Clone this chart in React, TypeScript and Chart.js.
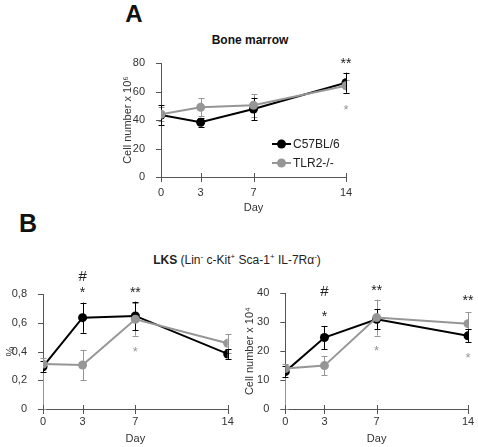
import React, { useEffect, useRef } from "react";
import { Chart, registerables } from "chart.js";
Chart.register(...registerables);

// ---------- data ----------
const DAYS = [0, 3, 7, 14];
const SERIES_NAMES = ["C57BL/6", "TLR2-/-"];

// Panel A: bone marrow cell number x 10^6
const BM_WT = [43.5, 38.4, 47.7, 66.2];
const BM_WT_ERR = [7, 3, 8, 7];
const BM_KO = [44, 48.9, 50.3, 64];
const BM_KO_ERR_UP = [5, 6.3, 8, 4];
const BM_KO_ERR_DN = [5, 6.3, 8, 4.8];
const BM_TICKS = [0, 20, 40, 60, 80];

// Panel B left: LKS %
const LKS_PCT_WT = [0.295, 0.637, 0.649, 0.384];
const LKS_PCT_WT_ERR = [0.04, 0.105, 0.1, 0.035];
const LKS_PCT_KO = [0.314, 0.307, 0.626, 0.458];
const LKS_PCT_KO_ERR_UP = [0.04, 0.105, 0.115, 0.065];
const LKS_PCT_KO_ERR_DN = [0.314, 0.105, 0.115, 0.065];
const LKS_PCT_TICKS = [0, 0.2, 0.4, 0.6, 0.8];

// Panel B right: LKS cell number x 10^4
const LKS_NUM_WT = [12.9, 24.7, 31, 25.3];
const LKS_NUM_WT_ERR = [2, 4, 3.5, 2.3];
const LKS_NUM_KO = [14, 15, 31.6, 29.5];
const LKS_NUM_KO_ERR_UP = [1.5, 3.3, 6.2, 4];
const LKS_NUM_KO_ERR_DN = [14, 3.3, 6.2, 2];
const LKS_NUM_TICKS = [0, 10, 20, 30, 40];

// significance marks: [day, value, text, series(0=WT black,1=KO gray)]
type Mark = [number, number, string, number];
const BM_MARKS: Mark[] = [
  [14, 82, "**", 0],
  [14, 49.3, "*", 1],
];
const LKS_PCT_MARKS: Mark[] = [
  [3, 0.925, "#", 0],
  [3, 0.83, "*", 0],
  [7, 0.83, "**", 0],
  [7, 0.42, "*", 1],
];
const LKS_NUM_MARKS: Mark[] = [
  [3, 40.6, "#", 0],
  [3, 33.1, "*", 0],
  [7, 41.9, "**", 0],
  [7, 21.1, "*", 1],
  [14, 38.4, "**", 0],
  [14, 18.7, "*", 1],
];

// ---------- styles ----------
const FONT = "'Liberation Sans', Arial, Helvetica, sans-serif";
const BLACK = "#000000";
const GRAY = "#969696";
const AXIS = "#555555";
const TEXT = "#333333";
const COLORS = [BLACK, GRAY];

type Spec = {
  left: number; top: number; width: number; height: number;
  padTop: number; padRight: number; yWidth: number; xHeight: number; xLabelPad: number;
  wt: number[]; wtErr: number[]; ko: number[]; koErrUp: number[]; koErrDn: number[];
  yTicks: number[]; yTitle: string; fmt: (v: number) => string; marks: Mark[]; legend: boolean;
};

function extrasPlugin(spec: Spec) {
  return {
    id: "extras",
    beforeDatasetsDraw(chart: any) {
      const { ctx } = chart;
      const x = chart.scales.x;
      const y = chart.scales.y;
      chart.data.datasets.forEach((ds: any) => {
        ctx.save();
        ctx.strokeStyle = ds.borderColor;
        ctx.lineWidth = 1;
        ds.data.forEach((p: any, i: number) => {
          const px = Math.round(x.getPixelForValue(p.x)) + 0.5;
          const top = y.getPixelForValue(p.y + ds.errUp[i]);
          const bot = y.getPixelForValue(p.y - ds.errDn[i]);
          ctx.beginPath();
          ctx.moveTo(px, top);
          ctx.lineTo(px, bot);
          ctx.moveTo(px - 3, Math.round(top) + 0.5);
          ctx.lineTo(px + 3, Math.round(top) + 0.5);
          ctx.moveTo(px - 3, Math.round(bot) + 0.5);
          ctx.lineTo(px + 3, Math.round(bot) + 0.5);
          ctx.stroke();
        });
        ctx.restore();
      });
    },
    afterDraw(chart: any) {
      const { ctx, chartArea } = chart;
      const x = chart.scales.x;
      const y = chart.scales.y;
      ctx.save();
      // tick marks
      ctx.strokeStyle = AXIS;
      ctx.lineWidth = 1;
      ctx.beginPath();
      DAYS.forEach((d) => {
        const px = Math.round(x.getPixelForValue(d)) + 0.5;
        ctx.moveTo(px, chartArea.bottom - 4);
        ctx.lineTo(px, chartArea.bottom + 5);
      });
      spec.yTicks.forEach((v) => {
        const py = Math.round(y.getPixelForValue(v)) + 0.5;
        ctx.moveTo(chartArea.left - 5, py);
        ctx.lineTo(chartArea.left, py);
      });
      ctx.stroke();
      // significance marks
      ctx.textAlign = "center";
      ctx.textBaseline = "middle";
      spec.marks.forEach(([d, v, t, s]) => {
        const size = t === "#" ? 15 : s === 0 ? 14 : 13;
        ctx.font = `${size}px ${FONT}`;
        ctx.fillStyle = s === 0 ? "#222" : GRAY;
        const off = t === "#" ? 0 : size * 0.25;
        ctx.fillText(t, x.getPixelForValue(d), y.getPixelForValue(v) + off);
      });
      // legend
      if (spec.legend) {
        const lx = chartArea.left + 0.6 * (chartArea.right - chartArea.left);
        [0, 1].forEach((i) => {
          const ly = chartArea.bottom - 33 + i * 19;
          ctx.strokeStyle = COLORS[i];
          ctx.fillStyle = COLORS[i];
          ctx.lineWidth = 2;
          ctx.beginPath();
          ctx.moveTo(lx, ly);
          ctx.lineTo(lx + 19, ly);
          ctx.stroke();
          ctx.beginPath();
          ctx.arc(lx + 9.5, ly, 4.5, 0, Math.PI * 2);
          ctx.fill();
          ctx.fillStyle = "#222";
          ctx.font = `12px ${FONT}`;
          ctx.textAlign = "left";
          ctx.fillText(SERIES_NAMES[i], lx + 21, ly + 0.5);
        });
      }
      ctx.restore();
    },
  };
}

function Panel({ spec }: { spec: Spec }) {
  const ref = useRef<HTMLCanvasElement | null>(null);
  useEffect(() => {
    if (!ref.current) return;
    const mk = (vals: number[]) => DAYS.map((d, i) => ({ x: d, y: vals[i] }));
    const yMin = spec.yTicks[0];
    const yMax = spec.yTicks[spec.yTicks.length - 1];
    const chart = new Chart(ref.current, {
      type: "line",
      data: {
        datasets: [
          {
            label: SERIES_NAMES[1], data: mk(spec.ko), borderColor: GRAY, backgroundColor: GRAY,
            pointBackgroundColor: GRAY, pointBorderColor: GRAY, pointRadius: 4.5, pointBorderWidth: 0,
            borderWidth: 2, order: 0, errUp: spec.koErrUp, errDn: spec.koErrDn,
          } as any,
          {
            label: SERIES_NAMES[0], data: mk(spec.wt), borderColor: BLACK, backgroundColor: BLACK,
            pointBackgroundColor: BLACK, pointBorderColor: BLACK, pointRadius: 4.5, pointBorderWidth: 0,
            borderWidth: 2, order: 1, errUp: spec.wtErr, errDn: spec.wtErr,
          } as any,
        ],
      },
      options: {
        responsive: false,
        animation: false,
        events: [],
        layout: { padding: { top: spec.padTop, right: spec.padRight, left: 0, bottom: 0 } },
        plugins: { legend: { display: false }, tooltip: { enabled: false } },
        scales: {
          x: {
            type: "linear", min: 0, max: 14,
            afterBuildTicks: (s: any) => { s.ticks = DAYS.map((v) => ({ value: v })); },
            afterFit: (s: any) => { s.height = spec.xHeight; },
            grid: { display: false },
            border: { display: true, color: AXIS, width: 1 },
            ticks: {
              padding: spec.xLabelPad, color: TEXT, font: { family: FONT, size: 11 },
              maxRotation: 0, autoSkip: false, callback: (v: any) => String(v),
            },
            title: { display: true, text: "Day", color: TEXT, font: { family: FONT, size: 11 }, padding: { top: 0, bottom: 0 } },
          },
          y: {
            type: "linear", min: yMin, max: yMax,
            afterBuildTicks: (s: any) => { s.ticks = spec.yTicks.map((v) => ({ value: v })); },
            afterFit: (s: any) => { s.width = spec.yWidth; },
            grid: { display: false },
            border: { display: true, color: AXIS, width: 1 },
            ticks: { padding: 8, color: TEXT, font: { family: FONT, size: 11 }, callback: (v: any) => spec.fmt(Number(v)) },
            title: { display: true, text: spec.yTitle, color: TEXT, font: { family: FONT, size: 11 }, padding: { top: 4, bottom: 0 } },
          },
        },
      } as any,
      plugins: [extrasPlugin(spec)],
    });
    return () => chart.destroy();
  }, [spec]);
  return (
    <canvas
      ref={ref}
      width={spec.width}
      height={spec.height}
      style={{ position: "absolute", left: spec.left, top: spec.top, width: spec.width, height: spec.height }}
    />
  );
}

const intFmt = (v: number) => String(Math.round(v));
const commaFmt = (v: number) => (v === 0 ? "0" : v.toFixed(1).replace(".", ","));

const SPEC_A: Spec = {
  left: 117, top: 45, width: 243, height: 170, padTop: 18, padRight: 14, yWidth: 44, xHeight: 38, xLabelPad: 1,
  wt: BM_WT, wtErr: BM_WT_ERR, ko: BM_KO, koErrUp: BM_KO_ERR_UP, koErrDn: BM_KO_ERR_DN,
  yTicks: BM_TICKS, yTitle: "Cell number x 10\u2076", fmt: intFmt, marks: BM_MARKS, legend: true,
};
const SPEC_BL: Spec = {
  left: 0, top: 262, width: 240, height: 184, padTop: 32.3, padRight: 12.3, yWidth: 43, xHeight: 37, xLabelPad: -2,
  wt: LKS_PCT_WT, wtErr: LKS_PCT_WT_ERR, ko: LKS_PCT_KO, koErrUp: LKS_PCT_KO_ERR_UP, koErrDn: LKS_PCT_KO_ERR_DN,
  yTicks: LKS_PCT_TICKS, yTitle: "%", fmt: commaFmt, marks: LKS_PCT_MARKS, legend: false,
};
const SPEC_BR: Spec = {
  left: 239, top: 262, width: 239, height: 184, padTop: 31.3, padRight: 10, yWidth: 46.3, xHeight: 37, xLabelPad: -2,
  wt: LKS_NUM_WT, wtErr: LKS_NUM_WT_ERR, ko: LKS_NUM_KO, koErrUp: LKS_NUM_KO_ERR_UP, koErrDn: LKS_NUM_KO_ERR_DN,
  yTicks: LKS_NUM_TICKS, yTitle: "Cell number x 10\u2074", fmt: intFmt, marks: LKS_NUM_MARKS, legend: false,
};

const label = (x: number, y: number, size: number, bold: boolean): React.CSSProperties => ({
  position: "absolute", left: x, top: y, transform: "translate(-50%, -50%)", fontFamily: FONT,
  fontSize: size, fontWeight: bold ? "bold" : "normal", lineHeight: 1, whiteSpace: "nowrap", color: "#111",
});

export default function App() {
  return (
    <div style={{ position: "absolute", left: 0, top: 0, width: 478, height: 447, background: "#fff", overflow: "hidden" }}>
      <div style={label(134, 14, 24, true)}>A</div>
      <div style={label(250, 40, 12, true)}>Bone marrow</div>
      <Panel spec={SPEC_A} />
      <div style={label(28, 223, 25, true)}>B</div>
      <div style={{ ...label(237, 259, 12, false), color: "#222" }}>
        <b>LKS</b> (Lin<sup style={{ fontSize: 8 }}>-</sup> c-Kit<sup style={{ fontSize: 8 }}>+</sup> Sca-1<sup style={{ fontSize: 8 }}>+</sup> IL-7R&alpha;<sup style={{ fontSize: 8 }}>-</sup>)
      </div>
      <Panel spec={SPEC_BL} />
      <Panel spec={SPEC_BR} />
    </div>
  );
}
